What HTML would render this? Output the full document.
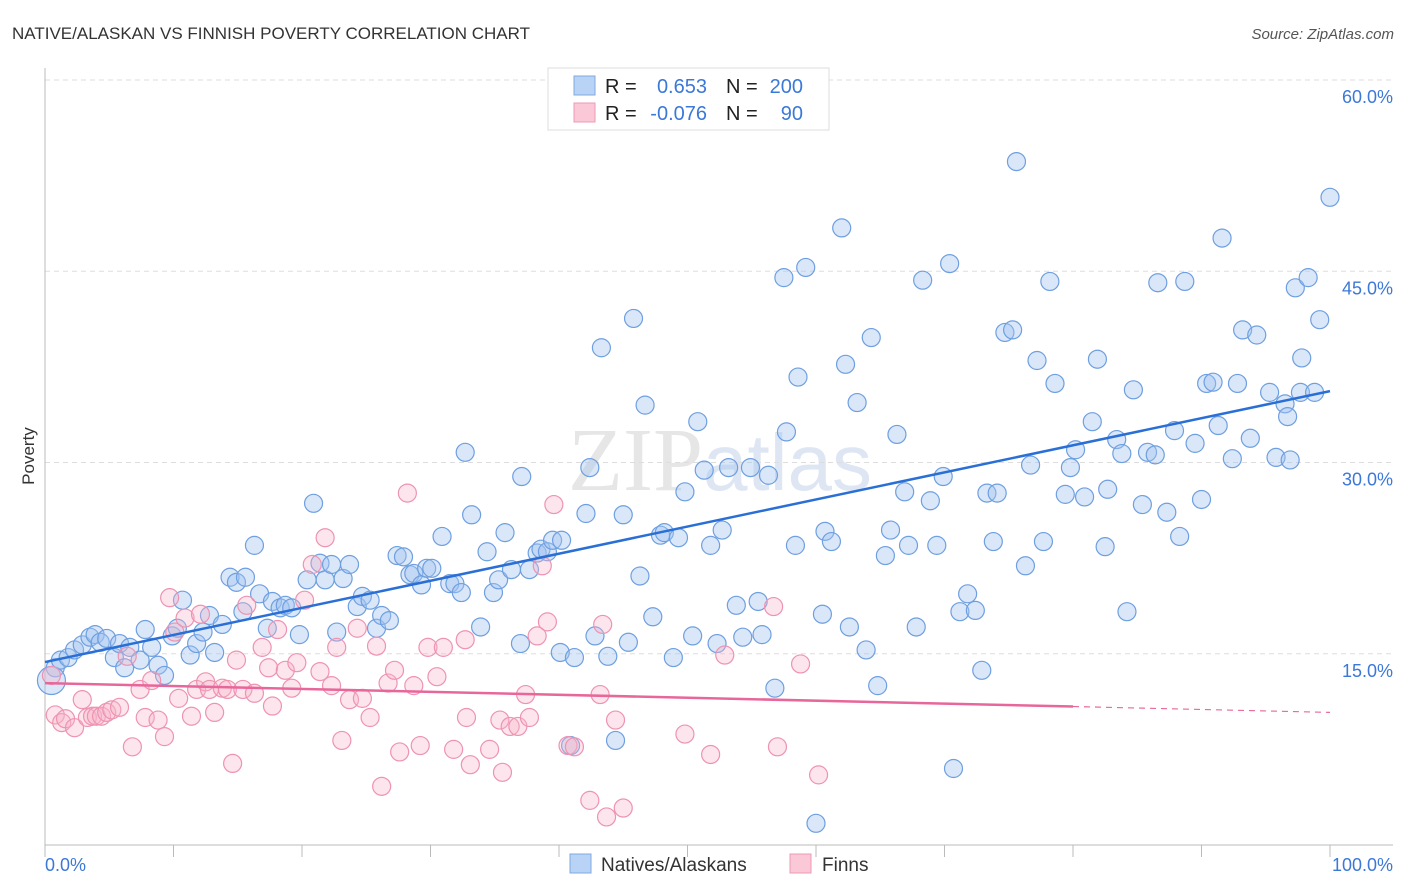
<!DOCTYPE html>
<html><head><meta charset="utf-8">
<style>
body{margin:0;background:#fff;font-family:"Liberation Sans",sans-serif;}
#wrap{position:relative;width:1406px;height:892px;overflow:hidden;}
</style></head>
<body>
<div id="wrap">
<svg id="svg" width="1406" height="892" xmlns="http://www.w3.org/2000/svg">
<text x="12" y="39" font-size="17" fill="#333">NATIVE/ALASKAN VS FINNISH POVERTY CORRELATION CHART</text>
<text x="1394" y="39" font-size="15" fill="#555" font-style="italic" text-anchor="end">Source: ZipAtlas.com</text>
<text x="720" y="490" font-size="90" fill="#e6e6e6" text-anchor="middle" font-family="Liberation Serif">ZIP<tspan fill="#dde6f2" font-family="Liberation Sans" font-size="80">atlas</tspan></text>
<text x="34" y="456" font-size="17" fill="#333" text-anchor="middle" transform="rotate(-90 34 456)">Poverty</text>
<g id="grid"></g>
<g id="pts"></g>
<g id="lines"></g>
<g>
<rect x="548" y="68" width="281" height="62" fill="#fff" stroke="#ddd"/>
<rect x="574" y="76" width="21" height="19" fill="#b8d3f5" stroke="#7fa8e0"/>
<rect x="574" y="103" width="21" height="19" fill="#fac8d6" stroke="#ee9ab5"/>
<text x="605" y="93" font-size="20" fill="#222">R =</text>
<text x="707" y="93" font-size="20" fill="#3b78d8" text-anchor="end">0.653</text>
<text x="726" y="93" font-size="20" fill="#222">N =</text>
<text x="803" y="93" font-size="20" fill="#3b78d8" text-anchor="end">200</text>
<text x="605" y="120" font-size="20" fill="#222">R =</text>
<text x="707" y="120" font-size="20" fill="#3b78d8" text-anchor="end">-0.076</text>
<text x="726" y="120" font-size="20" fill="#222">N =</text>
<text x="803" y="120" font-size="20" fill="#3b78d8" text-anchor="end">90</text>
</g>
<g>
<rect x="570" y="854" width="21" height="19" fill="#b8d3f5" stroke="#7fa8e0"/>
<text x="601" y="871" font-size="19" fill="#333">Natives/Alaskans</text>
<rect x="790" y="854" width="21" height="19" fill="#fac8d6" stroke="#ee9ab5"/>
<text x="822" y="871" font-size="19" fill="#333">Finns</text>
</g>
<text x="45" y="871" font-size="18" fill="#3b78d8">0.0%</text>
<text x="1393" y="871" font-size="18" fill="#3b78d8" text-anchor="end">100.0%</text>
</svg>
</div>
<script>
const yTicks=[15,30,45,60];
const yTickLabels=["15.0%","30.0%","45.0%","60.0%"];
const xTicks=[0,10,20,30,40,50,60,70,80,90,100];
const blueX=[0.8,0.5,1.2,1.8,2.3,2.9,3.5,3.9,4.3,4.8,5.4,5.8,6.2,6.6,7.4,7.8,8.3,8.8,9.3,9.9,10.3,10.7,11.3,11.8,12.3,12.8,13.2,13.8,14.4,14.9,15.6,15.4,16.3,16.7,17.3,17.7,18.3,18.7,19.2,19.8,20.4,20.9,21.4,21.8,22.3,22.7,23.2,23.7,24.3,24.7,25.3,25.8,26.2,26.8,27.4,27.9,28.4,28.7,29.3,29.7,30.1,30.9,31.5,31.9,32.4,32.7,33.2,33.9,34.4,34.9,35.3,35.8,36.3,37.0,37.1,37.7,38.3,38.6,39.1,39.5,40.1,40.2,41.2,42.1,42.4,42.8,43.3,43.8,45.0,45.4,45.8,46.3,46.7,47.3,47.9,48.2,48.9,49.3,49.8,50.4,50.8,51.3,51.8,52.3,52.7,53.2,53.8,54.3,54.9,55.5,55.8,56.3,56.8,57.5,57.7,58.4,58.6,59.2,60.5,60.7,61.2,62.0,62.3,62.6,63.2,63.9,64.3,64.8,65.4,65.8,66.3,66.9,67.2,67.8,68.3,68.9,69.4,69.9,70.4,70.7,71.2,71.8,72.4,72.9,73.3,73.8,74.1,74.7,75.3,75.6,76.3,76.7,77.2,77.7,78.2,78.6,79.4,79.8,80.2,80.9,81.5,81.9,82.5,82.7,83.4,83.8,84.2,84.7,85.4,85.8,86.4,86.6,87.3,87.9,88.3,88.7,89.5,90.0,90.4,90.9,91.3,91.6,92.4,92.8,93.2,93.8,94.3,95.3,95.8,96.5,96.7,97.3,97.7,98.3,98.8,99.2,100,97.8,60.0,40.9,44.4,96.9];
const blueY=[13.9,12.9,14.5,14.7,15.3,15.7,16.3,16.5,15.9,16.2,14.7,15.8,13.9,15.5,14.5,16.9,15.5,14.1,13.3,16.4,17.0,19.2,14.9,15.8,16.7,18.0,15.1,17.3,21.0,20.6,21.0,18.3,23.5,19.7,17.0,19.1,18.6,18.8,18.6,16.5,20.8,26.8,22.1,20.8,22.0,16.7,20.9,22.0,18.7,19.5,19.2,17.0,18.0,17.6,22.7,22.6,21.2,21.3,20.4,21.7,21.7,24.2,20.5,20.5,19.8,30.8,25.9,17.1,23.0,19.8,20.8,24.5,21.6,15.8,28.9,21.6,22.9,23.2,23.0,23.9,15.1,23.9,14.7,26.0,29.6,16.4,39.0,14.8,25.9,15.9,41.3,21.1,34.5,17.9,24.3,24.5,14.7,24.1,27.7,16.4,33.2,29.4,23.5,15.8,24.7,29.6,18.8,16.3,29.6,19.1,16.5,29.0,12.3,44.5,32.4,23.5,36.7,45.3,18.1,24.6,23.8,48.4,37.7,17.1,34.7,15.3,39.8,12.5,22.7,24.7,32.2,27.7,23.5,17.1,44.3,27.0,23.5,28.9,45.6,6.0,18.3,19.7,18.4,13.7,27.6,23.8,27.6,40.2,40.4,53.6,21.9,29.8,38.0,23.8,44.2,36.2,27.5,29.6,31.0,27.3,33.2,38.1,23.4,27.9,31.8,30.7,18.3,35.7,26.7,30.8,30.6,44.1,26.1,32.5,24.2,44.2,31.5,27.1,36.2,36.3,32.9,47.6,30.3,36.2,40.4,31.9,40.0,35.5,30.4,34.6,33.6,43.7,35.5,44.5,35.5,41.2,50.8,38.2,1.7,7.8,8.2,30.2];
const pinkX=[0.5,0.8,1.3,1.6,2.3,2.9,3.3,3.7,4.0,4.4,4.8,5.2,5.8,6.4,6.8,7.4,7.8,8.3,8.8,9.3,9.7,10.1,10.4,10.9,11.4,11.8,12.1,12.5,12.8,13.2,13.8,14.2,14.6,14.9,15.4,15.7,16.3,16.9,17.4,17.7,18.1,18.7,19.2,19.6,20.2,20.8,21.4,21.8,22.3,22.7,23.1,23.7,24.3,24.7,25.3,25.8,26.2,26.7,27.2,27.6,28.2,28.7,29.2,29.8,30.5,31.0,31.8,32.7,33.1,32.8,34.6,35.4,35.6,36.2,36.8,37.4,37.7,38.3,38.7,39.1,39.6,40.7,41.2,42.4,43.2,43.4,43.7,44.4,45.0,49.8,51.8,52.9,57.0,58.8,60.2,56.7];
const pinkY=[13.3,10.2,9.6,9.9,9.2,11.4,10.0,10.1,10.1,10.1,10.4,10.6,10.8,14.8,7.7,12.2,10.0,12.9,9.8,8.5,19.4,16.7,11.5,17.8,10.1,12.2,18.1,12.8,12.2,10.4,12.3,12.2,6.4,14.5,12.2,18.8,11.9,15.5,13.9,10.9,16.9,13.7,12.3,14.3,19.2,22.0,13.6,24.1,12.5,15.5,8.2,11.4,17.0,11.5,10.0,15.6,4.6,12.7,13.7,7.3,27.6,12.5,7.8,15.5,13.2,15.5,7.5,16.1,6.3,10.0,7.5,9.8,5.7,9.3,9.3,11.8,10.0,16.4,21.9,17.5,26.7,7.8,7.7,3.5,11.8,17.3,2.2,9.8,2.9,8.7,7.1,14.9,7.7,14.2,5.5,18.7];
const blueTrend=[14.35,35.6];   // value at x=0, x=100
const pinkTrend=[12.7,10.4];    // value at x=0, x=100
const pinkSolidEnd=80;

const X0=45,X1=1330,Y0=845,PX=12.75;
const xs=v=>X0+(X1-X0)*v/100;
const ys=v=>Y0-v*PX;
const NS="http://www.w3.org/2000/svg";
function mk(tag,attrs,parent){const e=document.createElementNS(NS,tag);for(const k in attrs)e.setAttribute(k,attrs[k]);parent.appendChild(e);return e;}
const grid=document.getElementById('grid');
yTicks.forEach((t,i)=>{
  const l=mk('line',{x1:X0,x2:1393,y1:ys(t),y2:ys(t),stroke:'#ddd','stroke-dasharray':'5,4'},grid);
  
  
  const tx=mk('text',{x:1393,y:ys(t)+23,'font-size':18,fill:'#3b78d8','text-anchor':'end'},grid);
  tx.textContent=yTickLabels[i];
  
  
});
const ax=mk('line',{x1:X0,x2:X0,y1:68,y2:Y0,stroke:'#bbb'},grid);


const bx=mk('line',{x1:X0,x2:1393,y1:Y0,y2:Y0,stroke:'#bbb'},grid);


xTicks.forEach(t=>{
  const l=mk('line',{x1:xs(t),x2:xs(t),y1:Y0,y2:Y0+12,stroke:'#bbb'},grid);
  
  
});
const pts=document.getElementById('pts');
blueX.forEach((v,i)=>{
  const c=mk('circle',{cx:xs(v),cy:ys(blueY[i]),r:i==1?14:9,fill:'rgba(160,195,240,0.4)',stroke:'#6e9fe0','stroke-width':1.2},pts);
  
  
});
pinkX.forEach((v,i)=>{
  const c=mk('circle',{cx:xs(v),cy:ys(pinkY[i]),r:9,fill:'rgba(247,180,200,0.35)',stroke:'#ee93b2','stroke-width':1.2},pts);
  
  
});
const lines=document.getElementById('lines');
const bl=mk('line',{x1:xs(0),y1:ys(blueTrend[0]),x2:xs(100),y2:ys(blueTrend[1]),stroke:'#2a6fd6','stroke-width':2.5},lines);


const pAt=x=>pinkTrend[0]+(pinkTrend[1]-pinkTrend[0])*x/100;
const pl=mk('line',{x1:xs(0),y1:ys(pAt(0)),x2:xs(pinkSolidEnd),y2:ys(pAt(pinkSolidEnd)),stroke:'#e8679a','stroke-width':2.5},lines);


const pd=mk('line',{x1:xs(pinkSolidEnd),y1:ys(pAt(pinkSolidEnd)),x2:xs(100),y2:ys(pAt(100)),stroke:'#e8679a','stroke-width':1.2,'stroke-dasharray':'6,5'},lines);


</script>
</body></html>
